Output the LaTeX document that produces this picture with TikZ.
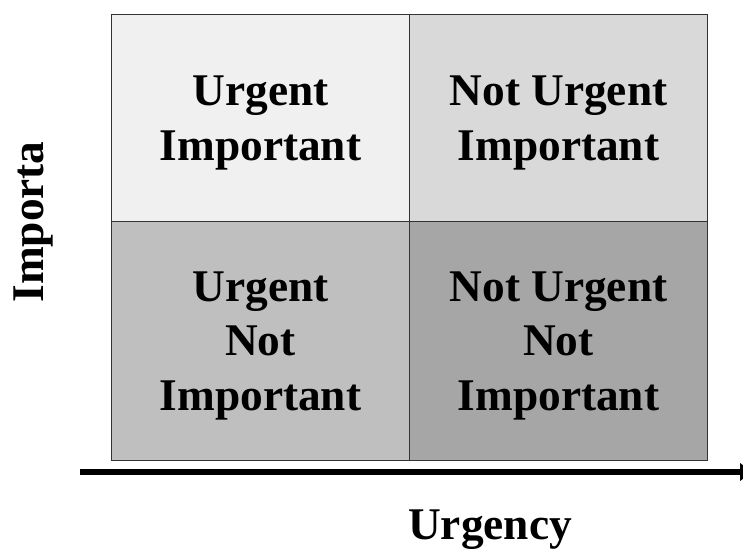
\documentclass[tikz,border=0pt]{standalone}
\usepackage{fontspec}
\setmainfont{Liberation Serif}
\usepackage{tikz}
\usetikzlibrary{arrows.meta,positioning}

\definecolor{qa}{HTML}{F0F0F0}
\definecolor{qb}{HTML}{D9D9D9}
\definecolor{qc}{HTML}{BFBFBF}
\definecolor{qd}{HTML}{A6A6A6}

\begin{document}
\begin{tikzpicture}[x=0.75pt,y=-0.75pt,
    quad/.style={draw=black!80,line width=0.75pt,inner sep=0pt,align=center,text depth=0pt,
        font=\bfseries\fontsize{34}{41}\selectfont,minimum width=223.5pt},
    lbl/.style={font=\bfseries\fontsize{34}{41}\selectfont},
    axis/.style={line width=4pt,-{Triangle[length=9pt,width=13pt]}}]
\useasboundingbox (0,0) rectangle (743,550);
\node[quad,fill=qa,minimum height=155.25pt,anchor=north west] (UI) at (111,14) {Urgent\\Important};
\node[quad,fill=qb,minimum height=155.25pt,anchor=north west] (NUI) at (409,14) {Not Urgent\\Important};
\node[quad,fill=qc,minimum height=179.25pt,anchor=north west] (UNI) at (111,221) {Urgent\\Not\\Important};
\node[quad,fill=qd,minimum height=179.25pt,anchor=north west] (NUNI) at (409,221) {Not Urgent\\Not\\Important};
% axes
\coordinate (x0) at (80,472);
\coordinate (x1) at (752,472);
\draw[axis] (x0) -- (x1);
\node[lbl,rotate=90,anchor=base] (imp) at (43,222) {Importa};
\node[lbl,anchor=base] (urg) at (490,539) {Urgency};
\end{tikzpicture}
\end{document}
